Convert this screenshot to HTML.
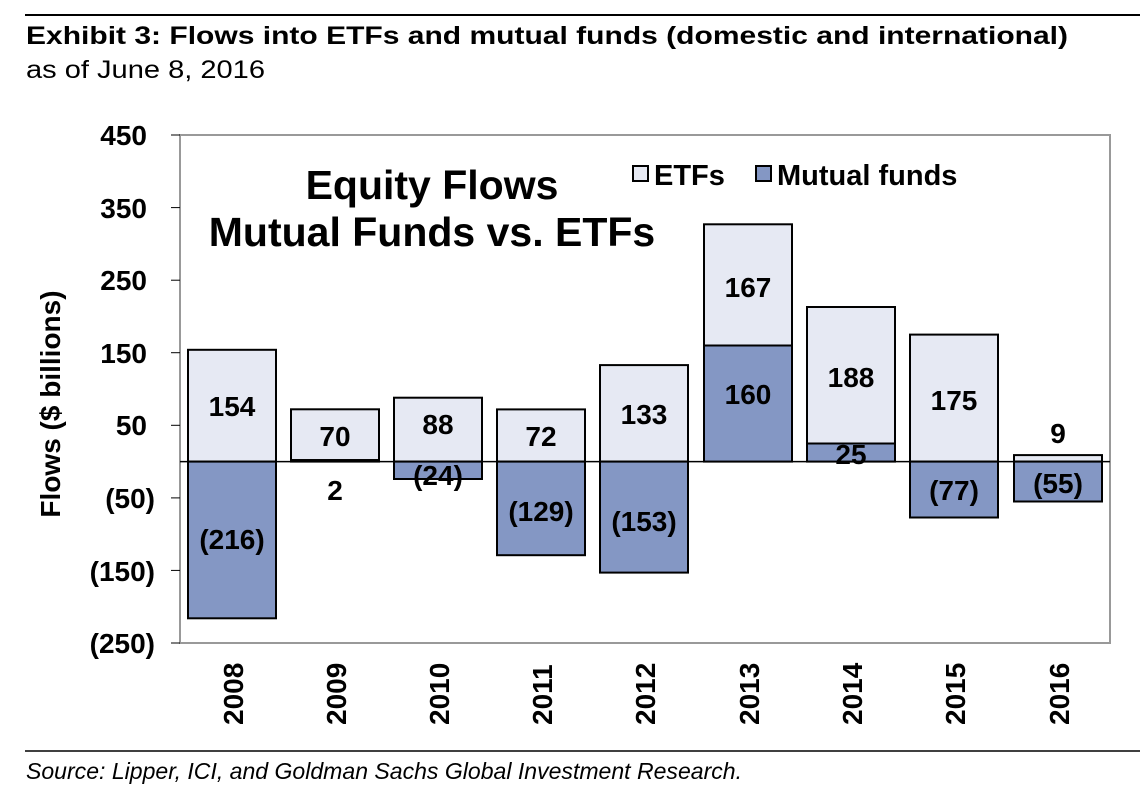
<!DOCTYPE html>
<html><head><meta charset="utf-8"><style>
body{margin:0;background:#fff;}
svg{display:block;font-family:"Liberation Sans",Arial,sans-serif;}
</style></head><body>
<svg width="1145" height="797" viewBox="0 0 1145 797">
<line x1="25" y1="15" x2="1140" y2="15" stroke="#000" stroke-width="2"/>
<text x="26" y="44" font-size="25" font-weight="bold" textLength="1042" lengthAdjust="spacingAndGlyphs">Exhibit 3: Flows into ETFs and mutual funds (domestic and international)</text>
<text x="26" y="78" font-size="25" textLength="239" lengthAdjust="spacingAndGlyphs">as of June 8, 2016</text>
<rect x="180" y="135" width="930" height="508" fill="none" stroke="#999" stroke-width="2"/>
<g font-size="28" font-weight="bold" text-anchor="end">
<text x="147" y="145">450</text><text x="147" y="218">350</text><text x="147" y="290">250</text>
<text x="147" y="363">150</text><text x="147" y="435">50</text><text x="155" y="508">(50)</text>
<text x="155" y="581">(150)</text><text x="155" y="653">(250)</text>
</g>
<g stroke="#000" stroke-width="1">
<line x1="171" y1="135" x2="180" y2="135"/><line x1="171" y1="207.6" x2="180" y2="207.6"/>
<line x1="171" y1="280.2" x2="180" y2="280.2"/><line x1="171" y1="352.7" x2="180" y2="352.7"/>
<line x1="171" y1="425.3" x2="180" y2="425.3"/><line x1="171" y1="497.9" x2="180" y2="497.9"/>
<line x1="171" y1="570.4" x2="180" y2="570.4"/><line x1="171" y1="643" x2="180" y2="643"/>
</g>
<text transform="translate(60,404) rotate(-90)" font-size="28" font-weight="bold" text-anchor="middle">Flows ($ billions)</text>
<g stroke="#000" stroke-width="2">
<rect x="188" y="349.8" width="88" height="111.8" fill="#e6e9f3"/><rect x="188" y="461.6" width="88" height="156.7" fill="#8497c4"/>
<rect x="291" y="409.3" width="88" height="50.8" fill="#e6e9f3"/><rect x="291" y="460.1" width="88" height="1.5" fill="#8497c4"/>
<rect x="394" y="397.7" width="88" height="63.9" fill="#e6e9f3"/><rect x="394" y="461.6" width="88" height="17.4" fill="#8497c4"/>
<rect x="497" y="409.4" width="88" height="52.2" fill="#e6e9f3"/><rect x="497" y="461.6" width="88" height="93.6" fill="#8497c4"/>
<rect x="600" y="365.1" width="88" height="96.5" fill="#e6e9f3"/><rect x="600" y="461.6" width="88" height="111" fill="#8497c4"/>
<rect x="704" y="224.3" width="88" height="121.2" fill="#e6e9f3"/><rect x="704" y="345.5" width="88" height="116.1" fill="#8497c4"/>
<rect x="807" y="307" width="88" height="136.5" fill="#e6e9f3"/><rect x="807" y="443.5" width="88" height="18.1" fill="#8497c4"/>
<rect x="910" y="334.6" width="88" height="127" fill="#e6e9f3"/><rect x="910" y="461.6" width="88" height="55.9" fill="#8497c4"/>
<rect x="1014" y="455.1" width="88" height="6.5" fill="#e6e9f3"/><rect x="1014" y="461.6" width="88" height="39.9" fill="#8497c4"/>
</g>
<line x1="180" y1="461.6" x2="1110" y2="461.6" stroke="#000" stroke-width="1.5"/>
<g font-size="28" font-weight="bold" text-anchor="middle">
<text x="232" y="416">154</text><text x="232" y="549">(216)</text>
<text x="335" y="446">70</text><text x="335" y="500">2</text>
<text x="438" y="434">88</text><text x="438" y="485">(24)</text>
<text x="541" y="446">72</text><text x="541" y="521">(129)</text>
<text x="644" y="424">133</text><text x="644" y="531">(153)</text>
<text x="748" y="297">167</text><text x="748" y="404">160</text>
<text x="851" y="387">188</text><text x="851" y="464">25</text>
<text x="954" y="410">175</text><text x="954" y="500">(77)</text>
<text x="1058" y="443">9</text><text x="1058" y="493">(55)</text>
</g>
<g font-size="28" font-weight="bold">
<text transform="translate(243,725) rotate(-90)">2008</text>
<text transform="translate(346,725) rotate(-90)">2009</text>
<text transform="translate(449,725) rotate(-90)">2010</text>
<text transform="translate(552,725) rotate(-90)">2011</text>
<text transform="translate(655,725) rotate(-90)">2012</text>
<text transform="translate(759,725) rotate(-90)">2013</text>
<text transform="translate(862,725) rotate(-90)">2014</text>
<text transform="translate(965,725) rotate(-90)">2015</text>
<text transform="translate(1069,725) rotate(-90)">2016</text>
</g>
<g font-size="41" font-weight="bold" text-anchor="middle">
<text x="432" y="199">Equity Flows</text>
<text x="432" y="246">Mutual Funds vs. ETFs</text>
</g>
<rect x="633" y="166" width="15" height="15" fill="#e6e9f3" stroke="#000" stroke-width="2"/>
<text x="654" y="185" font-size="29" font-weight="bold">ETFs</text>
<rect x="756" y="166" width="15" height="15" fill="#8497c4" stroke="#000" stroke-width="2"/>
<text x="777" y="185" font-size="29" font-weight="bold">Mutual funds</text>
<line x1="25" y1="751" x2="1140" y2="751" stroke="#000" stroke-width="1.5"/>
<text x="26" y="779" font-size="23" font-style="italic" textLength="716" lengthAdjust="spacingAndGlyphs">Source: Lipper, ICI, and Goldman Sachs Global Investment Research.</text>
</svg>
</body></html>
